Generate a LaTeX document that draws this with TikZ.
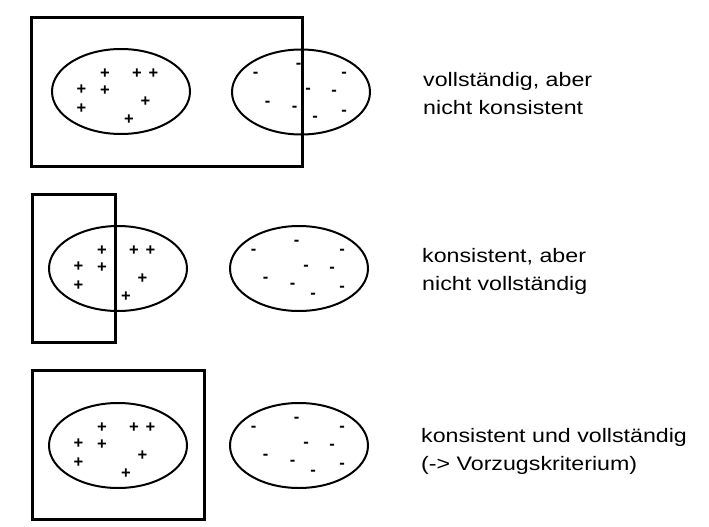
\documentclass[tikz,border=0pt]{standalone}
\usepackage{fontspec}
\setmainfont{Liberation Sans}
\newfontfamily\captionfont[FakeStretch=1.19]{Liberation Sans}
\usetikzlibrary{shapes}

\begin{document}
\begin{tikzpicture}[x=1pt,y=-1pt]
            \tikzstyle{set node}=[draw,ellipse,line width=2pt,inner sep=0pt,minimum width=138pt,minimum height=85pt]
            \tikzstyle{sign}=[inner sep=0pt,font=\fontsize{16.5}{16.5}\selectfont\bfseries]
            \tikzstyle{hyp box}=[line width=3pt]
            \tikzstyle{caption}=[anchor=base west,align=left,inner sep=0pt,font=\captionfont\fontsize{19.5}{28}\selectfont]
            \useasboundingbox (0,0) rectangle (709,527);

            \node[set node] (P1) at (121,91.5) {};
            \node[set node] (N1) at (301,92) {};
            \node[set node] (P2) at (118,268.5) {};
            \node[set node] (N2) at (299,268.5) {};
            \node[set node] (P3) at (118,445.5) {};
            \node[set node] (N3) at (299,445.5) {};

            \foreach \k in {1,2,3} {
                \foreach \dx/\dy [count=\i] in {-16/-17.5,16/-17.5,32.5/-17.5,-39.5/-1.5,-16/-0.5,24.5/10,-39.5/17,8/28.5}
                    \node[sign] (P\k-\i) at ([shift={(\dx,\dy)}]P\k) {+};
                \foreach \dx/\dy [count=\i] in {-2.5/-26,-45.5/-16.7,43/-16.7,7/-0.7,33/1.3,-33.5/11.7,-6.5/17.3,14/27.3,43/20.7}
                    \node[sign] (N\k-\i) at ([shift={(\dx,\dy)}]N\k) {-};
            }

            \draw[hyp box] (31.5,17.5) rectangle (302.5,166);
            \draw[hyp box] (32,194.8) rectangle (115.2,342.8);
            \draw[hyp box] (32,370.8) rectangle (204.2,519.2);

            \node[caption] (C1) at (423,114) {vollständig, aber\\nicht konsistent};
            \node[caption] (C2) at (422,290) {konsistent, aber\\nicht vollständig};
            \node[caption] (C3) at (421,470) {konsistent und vollständig\\(-> Vorzugskriterium)};
        \end{tikzpicture}
\end{document}
